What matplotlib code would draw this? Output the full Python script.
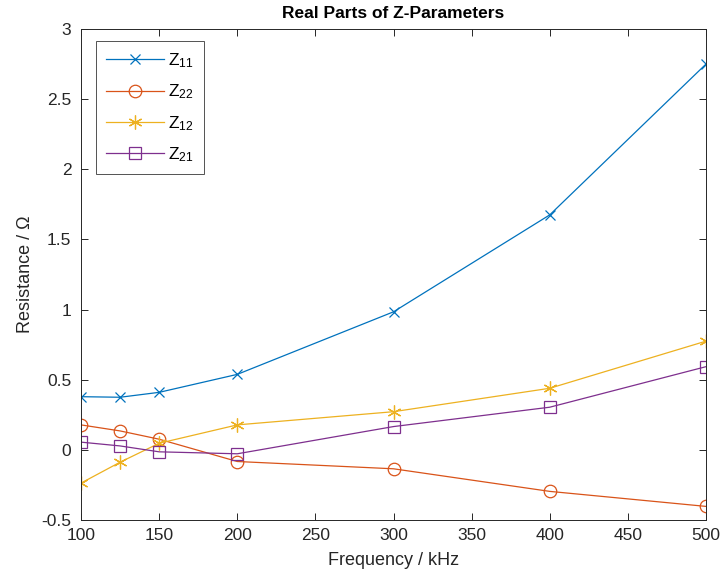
import matplotlib
matplotlib.use("Agg")
import matplotlib.pyplot as plt

plt.rcParams['font.family'] = ['Liberation Sans', 'DejaVu Sans']
plt.rcParams['mathtext.fontset'] = 'custom'
plt.rcParams['mathtext.rm'] = 'Liberation Sans'
plt.rcParams['mathtext.it'] = 'Liberation Sans'

freq = [100, 125, 150, 200, 300, 400, 500]
z11 = [0.379, 0.375, 0.41, 0.538, 0.984, 1.675, 2.75]
z22 = [0.178, 0.135, 0.076, -0.083, -0.135, -0.296, -0.403]
z12 = [-0.237, -0.088, 0.047, 0.178, 0.272, 0.439, 0.775]
z21 = [0.055, 0.028, -0.014, -0.028, 0.166, 0.304, 0.593]

asterisk = (6, 2, 0)
series = [
    (z11, 'x', '#0072BD', r'Z$_{11}$', 7),
    (z22, 'o', '#D95319', r'Z$_{22}$', 9),
    (z12, asterisk, '#EDB120', r'Z$_{12}$', 10),
    (z21, 's', '#7E2F8E', r'Z$_{21}$', 8),
]

fig = plt.figure(figsize=(7.23, 5.82), dpi=100)
ax = fig.add_axes([81/723, 1-520/582, (706-81)/723, (520-29)/582])

for vals, m, c, lab, ms in series:
    ax.plot(freq, vals, marker=m, color=c, label=lab, lw=0.9,
            markersize=ms, markerfacecolor='none', markeredgewidth=0.9)

ax.set_xlim(100, 500)
ax.set_ylim(-0.5, 3)
ax.set_xticks(range(100, 501, 50))
ax.set_yticks([-0.5, 0, 0.5, 1, 1.5, 2, 2.5, 3])
ax.set_yticklabels(['-0.5', '0', '0.5', '1', '1.5', '2', '2.5', '3'])
ax.tick_params(direction='in', top=True, right=True, labelsize=12.5,
               colors='#262626', length=5, width=0.7)
ax.tick_params(axis='x', pad=6)
ax.tick_params(axis='y', pad=7)
for s in ax.spines.values():
    s.set_color('#262626')
    s.set_linewidth(0.7)
ax.set_xlabel('Frequency / kHz', fontsize=13, color='#262626', labelpad=6)
ax.set_ylabel('Resistance / Ω', fontsize=13, color='#262626', labelpad=5)
ax.set_title('Real Parts of Z-Parameters', fontsize=12.5, fontweight='bold', color='black', pad=8)
leg = ax.legend(loc='upper left', fontsize=12.5, frameon=True, fancybox=False,
                edgecolor='#262626', handlelength=3.3, borderpad=0.6,
                labelspacing=0.72, handletextpad=0.25, borderaxespad=0,
                bbox_to_anchor=((96-81)/625, (520-41)/491))
leg.get_frame().set_linewidth(0.7)

fig.savefig('out.png', dpi=100)
